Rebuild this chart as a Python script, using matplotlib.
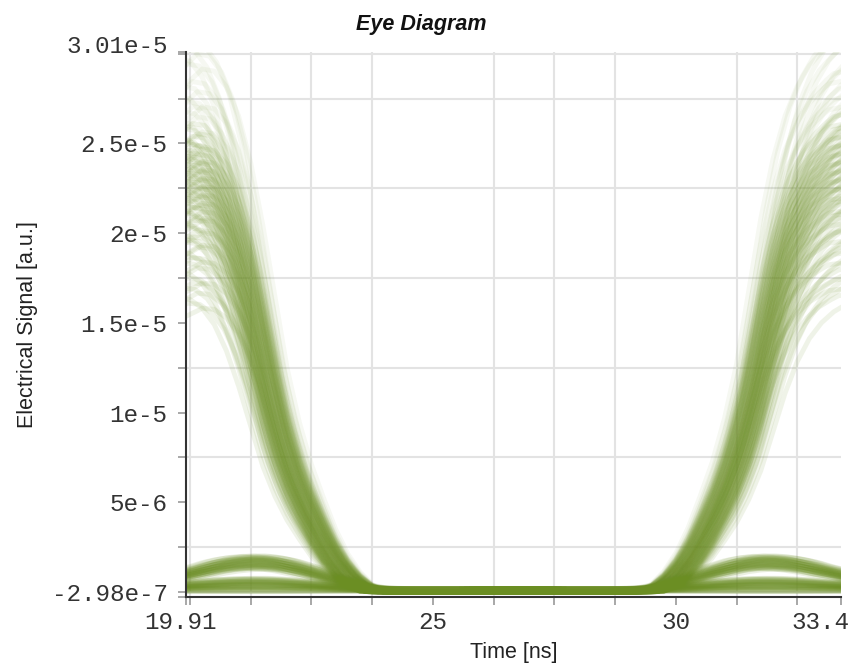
import numpy as np
import matplotlib.pyplot as plt
from matplotlib.transforms import ScaledTranslation

# axis limits
t_min, t_max = 19.91, 33.4          # ns
v_min, v_max = -2.98e-7, 3.01e-5    # a.u.
unit = 1e-6                          # trace values below are in 1e-6 a.u.

# mean falling edge (left side of the eye)
fall_t = [19.5, 19.91, 20.0, 20.25, 20.5, 20.75, 21.0, 21.25, 21.5, 21.75,
          22.0, 22.25, 22.5, 22.75, 23.0, 23.25, 23.5, 23.75, 24.0, 27.5]
fall_v = [22.4, 23.2, 23.4, 23.3, 22.6, 21.3, 19.2, 16.4, 13.2, 10.0,
          7.6, 5.7, 4.2, 2.8, 1.7, 0.9, 0.35, 0.05, 0.0, 0.0]

# mean rising edge (right side of the eye)
rise_t = [25.8, 29.25, 29.5, 29.75, 30.0, 30.25, 30.5, 30.75, 31.0, 31.25,
          31.5, 31.75, 32.0, 32.25, 32.5, 32.75, 33.0, 33.25, 33.4, 33.8]
rise_v = [0.0, 0.0, 0.05, 0.35, 0.9, 1.7, 2.8, 4.2, 5.7, 7.6,
          10.0, 13.2, 16.4, 19.0, 20.9, 22.2, 23.1, 23.7, 24.0, 24.2]

# small ISI bumps on the "0" level
bump_l_t = [19.5, 19.91, 20.25, 20.5, 20.75, 21.0, 21.25, 21.5, 21.75, 22.0,
            22.5, 23.0, 23.5, 24.0, 24.5, 27.5]
bump_l_v = [0.7, 1.1, 1.35, 1.55, 1.7, 1.8, 1.85, 1.85, 1.78, 1.65,
            1.25, 0.75, 0.35, 0.1, 0.0, 0.0]
bump_r_t = [25.8, 28.75, 29.25, 29.75, 30.25, 30.75, 31.25, 31.5, 31.75, 32.0,
            32.25, 32.5, 32.75, 33.0, 33.4, 33.8]
bump_r_v = [0.0, 0.0, 0.1, 0.35, 0.75, 1.25, 1.65, 1.78, 1.85, 1.85,
            1.8, 1.7, 1.55, 1.35, 1.1, 0.7]
floor_level = 0.12

# spread of the traces (amplitude factors and timing offsets in ns)
edge_gain = [0.7, 0.76, 0.81, 0.85, 0.88, 0.91, 0.93, 0.95, 0.97, 0.99,
             1.01, 1.03, 1.05, 1.08, 1.12, 1.18, 1.27]
edge_delay = [-0.25, -0.15, -0.05, 0.05, 0.15, 0.25]
delay_gain_shift = [0.0, 0.024, -0.012, 0.036, 0.012, -0.024]
bump_gain = [0.72, 0.8, 0.88, 0.96, 1.04]
low_gain = [0.0, 0.1, 0.2, 0.28]

x_labels = ["19.91", "25", "30", "33.4"]
x_major = [19.91, 25, 30, 33.4]
y_labels = ["-2.98e-7", "5e-6", "1e-5", "1.5e-5", "2e-5", "2.5e-5", "3.01e-5"]
y_major = [-2.98e-7, 5e-6, 1e-5, 1.5e-5, 2e-5, 2.5e-5, 3.01e-5]

trace_color = "#6b8e23"


def draw_family(ax, t, v, gains, alpha=0.1, lw=3.5, base=0.0):
    t = np.array(t)
    v = np.array(v)
    for d, s in zip(edge_delay, delay_gain_shift):
        for g in gains:
            # the outer traces are rarer, so they look paler
            a = alpha * 0.6 if g > 1.1 else alpha
            ax.plot(t + d, (v * (g + s) + base) * unit, color=trace_color,
                    lw=lw, alpha=a, solid_capstyle="butt")


def main():
    fig = plt.figure(figsize=(8.55, 6.66), dpi=100)
    ax = fig.add_axes([0.2171, 0.1032, 0.7665, 0.8187])

    draw_family(ax, fall_t, fall_v, edge_gain)
    draw_family(ax, rise_t, rise_v, edge_gain)
    draw_family(ax, bump_l_t, bump_l_v, bump_gain, alpha=0.13, lw=4)
    draw_family(ax, bump_r_t, bump_r_v, bump_gain, alpha=0.13, lw=4)
    draw_family(ax, bump_l_t, bump_l_v, low_gain, alpha=0.13, lw=5, base=floor_level)
    draw_family(ax, bump_r_t, bump_r_v, low_gain, alpha=0.13, lw=5, base=floor_level)

    ax.set_xlim(t_min, t_max)
    ax.set_ylim(v_min, v_max)

    ax.set_xticks(x_major)
    ax.set_xticklabels(x_labels)
    ax.set_xticks(np.arange(20, 33, 1.25), minor=True)
    ax.set_yticks(y_major)
    ax.set_yticklabels(y_labels)
    ax.set_yticks(np.arange(0, 3.01e-5, 2.5e-6), minor=True)

    ax.grid(False)
    ax.grid(True, which="minor", color="#e3e3e3", lw=1.5)
    ax.set_axisbelow(True)

    for s in ["top", "right"]:
        ax.spines[s].set_visible(False)
    for s in ["left", "bottom"]:
        ax.spines[s].set_color("#333333")
        ax.spines[s].set_linewidth(1.5)

    ax.tick_params(which="both", direction="out", length=6, width=1.2,
                   color="#999999")
    ax.tick_params(axis="x", which="major", pad=4)
    ax.tick_params(axis="y", which="major", pad=7)
    for lab in ax.get_xticklabels() + ax.get_yticklabels():
        lab.set_fontfamily("Liberation Mono")
        lab.set_fontsize(17.5)
        lab.set_color("#333333")

    # end labels are pushed inside the figure like in the original tool
    def shift(lab, dx, dy):
        lab.set_transform(lab.get_transform() +
                          ScaledTranslation(dx / 100, dy / 100, fig.dpi_scale_trans))

    xl = ax.get_xticklabels()
    shift(xl[0], -5, 0)
    shift(xl[-1], -21, 0)
    yl = ax.get_yticklabels()
    shift(yl[0], 0, 5)
    shift(yl[-1], 0, 8)

    ax.set_xlabel("Time [ns]", fontfamily="Liberation Sans", fontsize=15.5,
                  color="#222222", labelpad=6)
    ax.set_ylabel("Electrical Signal [a.u.]", fontfamily="Liberation Sans",
                  fontsize=15.5, color="#222222", labelpad=10)
    fig.text(0.4925, 0.955, "Eye Diagram", fontfamily="Liberation Sans",
             fontsize=15.5, fontweight="bold", fontstyle="italic",
             ha="center", va="baseline", color="#111111")

    fig.savefig("out.png", dpi=100)


if __name__ == '__main__':
    main()
